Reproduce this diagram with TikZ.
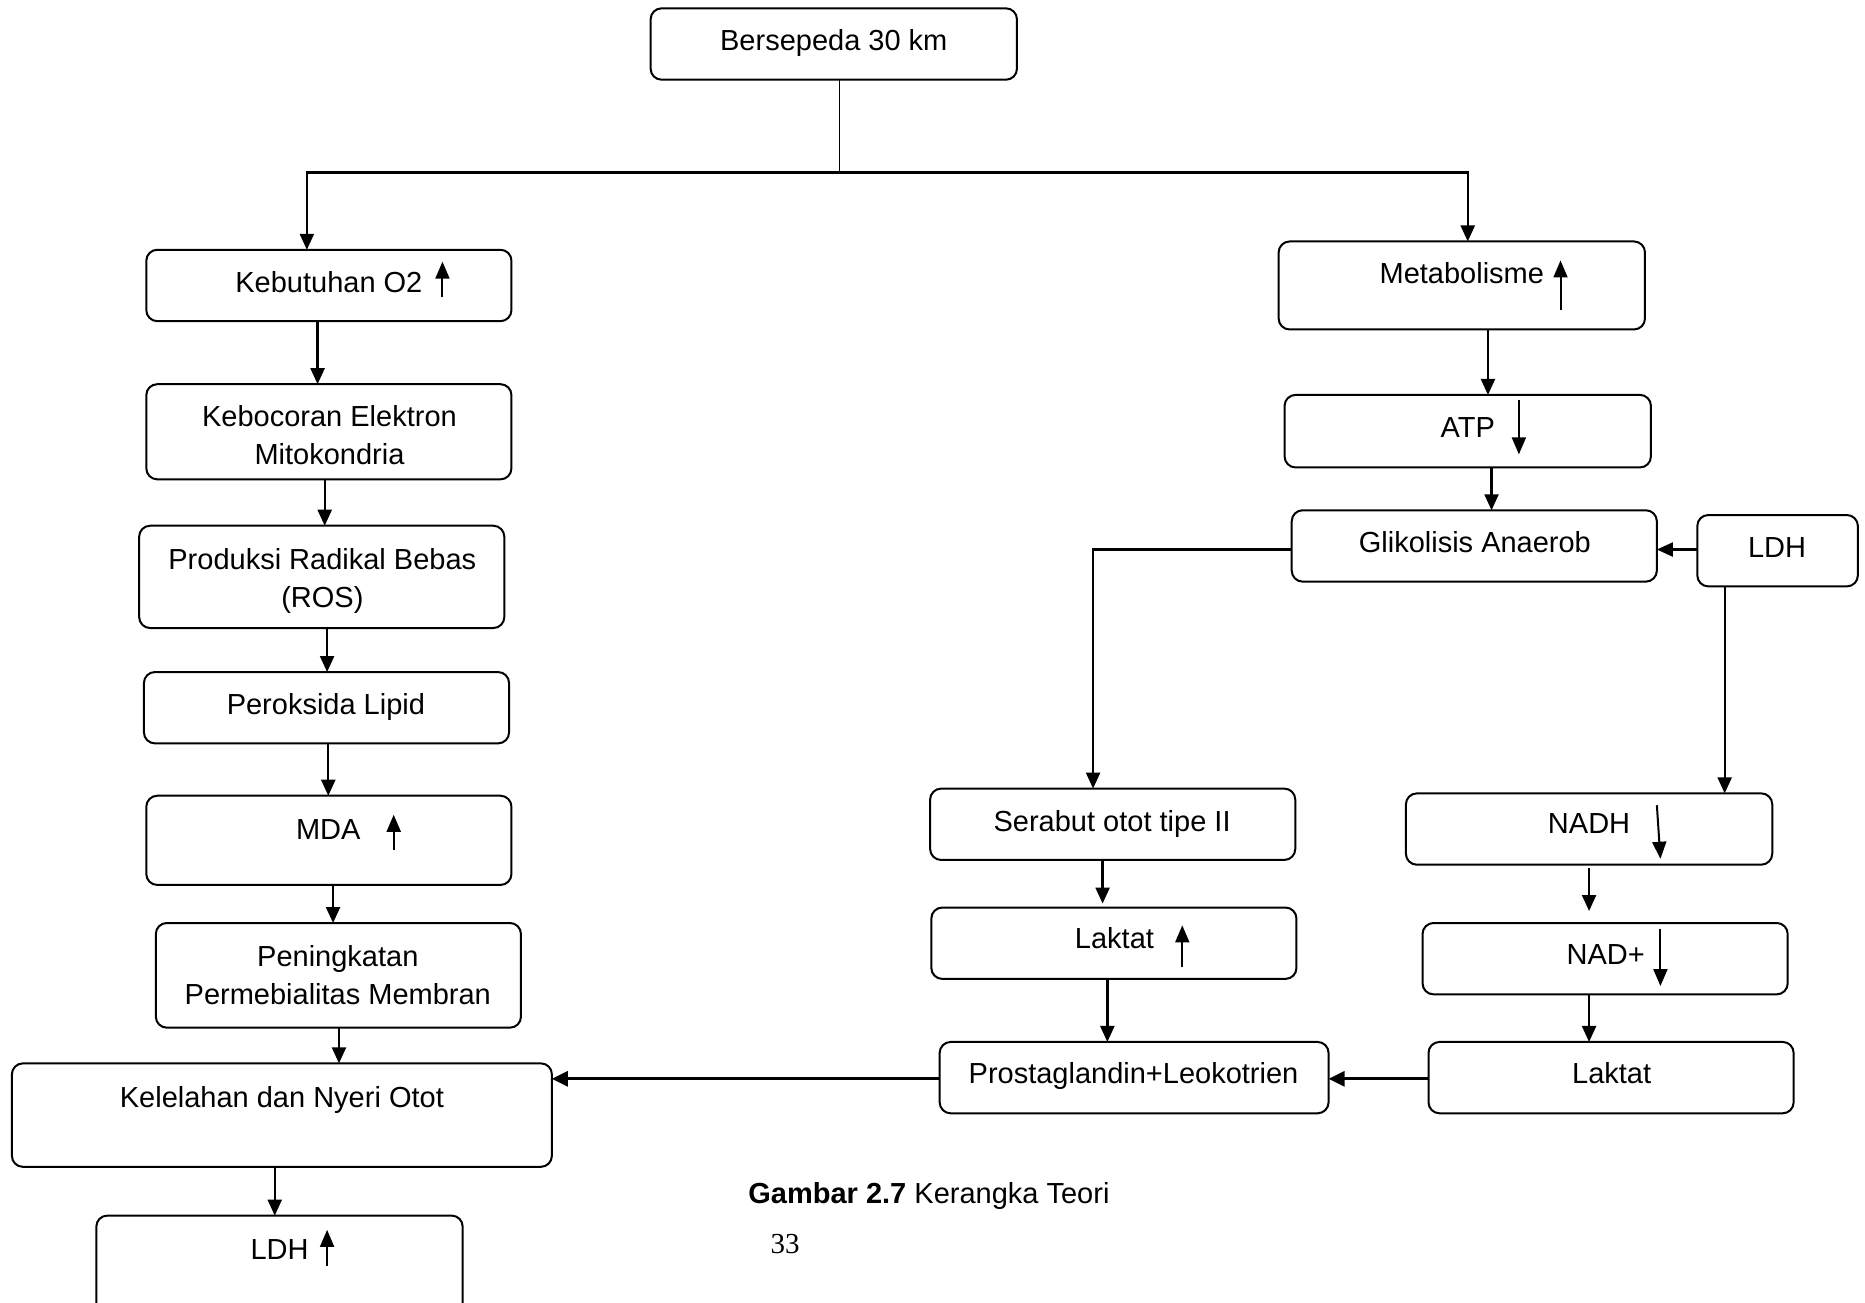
\documentclass[tikz,border=0pt]{standalone}
\usepackage{fontspec}
\setmainfont{Liberation Sans}
\newfontfamily\pgnumfont{Liberation Serif}
\usetikzlibrary{arrows.meta}
\begin{document}
\begin{tikzpicture}[x=1.1894pt,y=-1.1894pt,
  box/.style n args={2}{draw,line width=2pt,rounded corners=11pt,minimum width=#1*1.1894pt,minimum height=#2*1.1894pt,inner sep=0pt,outer sep=0pt},
  lbl/.style={font=\fontsize{29pt}{38.5pt}\selectfont,align=center,inner sep=0pt,anchor=base},
  lbl2/.style={font=\fontsize{29pt}{38.5pt}\selectfont,align=center,inner sep=0pt},
  arr/.style={line width=2.3pt,-{Triangle[length=16pt,width=14pt]}},
  arrb/.style={line width=3pt,-{Triangle[length=16pt,width=15pt]}},
  ind/.style={line width=2pt,-{Triangle[length=17pt,width=14pt]}},
  ln/.style={line width=1.2pt}]
\useasboundingbox (0,0) rectangle (1568,1095);

% left column boxes
\node[box={308}{60}] (bers) at (701,37) {};
\node[lbl] (bersT) at (701,42.7) {Bersepeda 30 km};
\node[box={307}{60}] (kb) at (276.5,240) {};
\node[lbl] (kbT) at (276.5,245.7) {Kebutuhan O2};
\node[box={307}{80}] (ke) at (276.5,363) {};
\node[lbl2] (keT) at (277,366) {Kebocoran Elektron\\Mitokondria};
\node[box={307}{86}] (pr) at (270.5,485) {};
\node[lbl2] (prT) at (271,488.5) {Produksi Radikal Bebas\\(ROS)};
\node[box={307}{60}] (pl) at (274.5,595) {};
\node[lbl] (plT) at (274,600.7) {Peroksida Lipid};
\node[box={307}{75}] (mda) at (276.5,706.5) {};
\node[lbl] (mdaT) at (276,705.7) {MDA};
\node[box={307}{88}] (pe) at (284.5,820) {};
\node[lbl2] (peT) at (284,820) {Peningkatan\\Permebialitas Membran};
\node[box={454}{87}] (kel) at (237,937.5) {};
\node[lbl] (kelT) at (237,930.7) {Kelelahan dan Nyeri Otot};
\node[box={308}{90}] (ldhb) at (235,1067) {};
\node[lbl] (ldhbT) at (235,1058.7) {LDH};

% right side boxes
\node[box={308}{74}] (met) at (1229,240) {};
\node[lbl] (metT) at (1229,238.7) {Metabolisme};
\node[box={308}{61}] (atp) at (1234,362.5) {};
\node[lbl] (atpT) at (1234,367.7) {ATP};
\node[box={307}{60}] (gli) at (1239.5,459) {};
\node[lbl] (gliT) at (1240,464.7) {Glikolisis Anaerob};
\node[box={135}{60}] (ldha) at (1494.5,463) {};
\node[lbl] (ldhaT) at (1494,468.7) {LDH};
\node[box={307}{60}] (ser) at (935.5,693) {};
\node[lbl] (serT) at (935,698.7) {Serabut otot tipe II};
\node[box={307}{60}] (laka) at (936.5,793) {};
\node[lbl] (lakaT) at (937,797.7) {Laktat};
\node[box={327}{60}] (pro) at (953.5,906) {};
\node[lbl] (proT) at (953,910.7) {Prostaglandin+Leokotrien};
\node[box={308}{60}] (nadh) at (1336,697) {};
\node[lbl] (nadhT) at (1336,700.7) {NADH};
\node[box={307}{60}] (nad) at (1349.5,806) {};
\node[lbl] (nadT) at (1350,810.7) {NAD+};
\node[box={307}{60}] (lakb) at (1354.5,906) {};
\node[lbl] (lakbT) at (1355,910.7) {Laktat};

% caption
\node[lbl] (cap) at (781,1011.7) {\textbf{Gambar 2.7} Kerangka Teori};
\node[lbl,font=\fontsize{29pt}{35pt}\pgnumfont] (pg) at (660,1054) {33};

% junction coordinates
\coordinate (j) at (706,145);
\coordinate (jl) at (258,145);
\coordinate (jr) at (1234,145);
\coordinate (gj) at (919,462);

% connectors
\draw[ln] (bers.south -| j) -- (j);
\draw[arr] (j) -- (jl) -- (kb.north -| jl);
\draw[arr] (j) -- (jr) -- (met.north -| jr);
\draw[arr] (kb.south -| 267,0) -- (ke.north -| 267,0);
\draw[arr] (ke.south -| 273,0) -- (pr.north -| 273,0);
\draw[arr] (pr.south -| 275,0) -- (pl.north -| 275,0);
\draw[arr] (pl.south -| 276,0) -- (mda.north -| 276,0);
\draw[arr] (mda.south -| 280,0) -- (pe.north -| 280,0);
\draw[arr] (pe.south -| 285,0) -- (kel.north -| 285,0);
\draw[arr] (kel.south -| 231,0) -- (ldhb.north -| 231,0);
\draw[arr] (met.south -| 1251,0) -- (atp.north -| 1251,0);
\draw[arr] (atp.south -| 1254,0) -- (gli.north -| 1254,0);
\draw[arr] (ldha.west |- 0,462) -- (gli.east |- 0,462);
\draw[arr] (gli.west |- gj) -- (gj) -- (ser.north -| gj);
\draw[arr] (ldha.south -| 1450,0) -- (nadh.north -| 1450,0);
\draw[arr,shorten >=4pt] (ser.south -| 927,0) -- (laka.north -| 927,0);
\draw[arr] (laka.south -| 931,0) -- (pro.north -| 931,0);
\draw[arr,shorten <=3pt,shorten >=12pt] (nadh.south -| 1336,0) -- (nad.north -| 1336,0);
\draw[arr] (nad.south -| 1336,0) -- (lakb.north -| 1336,0);
\draw[arrb] (lakb.west |- 0,907) -- (pro.east |- 0,907);
\draw[arrb] (pro.west |- 0,907) -- (kel.east |- 0,907);

% up/down indicator arrows
\draw[ind] (372,250) -- (372,220);
\draw[ind] (331,715) -- (331,685);
\draw[ind] (275,1064) -- (275,1034);
\draw[ind] (1312,261) -- (1312,219);
\draw[ind] (1277,336) -- (1277,382);
\draw[ind] (994,813) -- (994,778);
\draw[ind] (1393,677) -- (1396,722);
\draw[ind] (1396,781) -- (1396,829);
\end{tikzpicture}
\end{document}
